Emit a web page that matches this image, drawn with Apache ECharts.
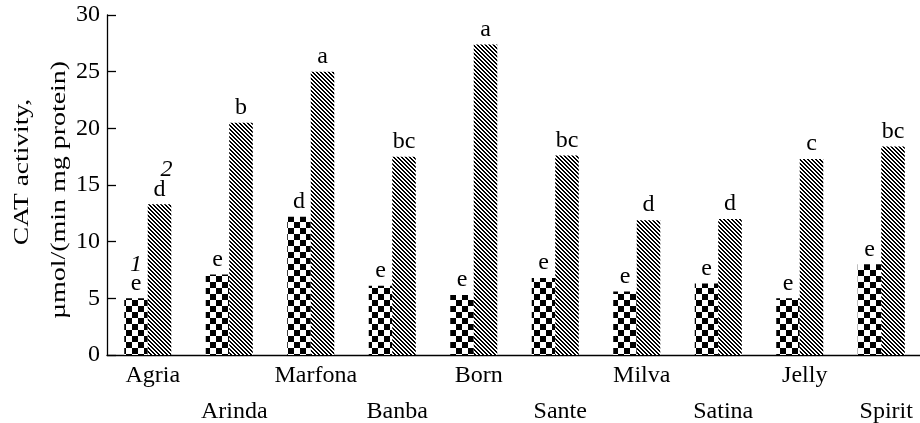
<!DOCTYPE html>
<html>
<head>
<meta charset="utf-8">
<script src="https://cdn.jsdelivr.net/npm/echarts@6/dist/echarts.min.js"></script>
<style>html,body{margin:0;padding:0;background:#fff}#c{width:920px;height:423px}</style>
</head>
<body>
<div id="c"></div>
<script>
var categories = ['Agria','Arinda','Marfona','Banba','Born','Sante','Milva','Satina','Jelly','Spirit'];
var series1Values = [5.0, 7.1, 12.2, 6.1, 5.3, 6.8, 5.6, 6.3, 5.0, 8.0];
var series2Values = [13.3, 20.5, 25.0, 17.5, 27.4, 17.6, 11.9, 12.0, 17.3, 18.4];
var series1Letters = ['e','e','d','e','e','e','e','e','e','e'];
var series2Letters = ['d','b','a','bc','a','bc','d','d','c','bc'];
var seriesNumbers = ['1','2'];
var yTicks = [0,5,10,15,20,25,30];

var FONT = '"Liberation Serif","Times New Roman",serif';

function checker(){
  var c = document.createElement('canvas'); c.width = 12; c.height = 12;
  var g = c.getContext('2d');
  g.fillStyle = '#fff'; g.fillRect(0,0,12,12);
  g.fillStyle = '#000'; g.fillRect(0,0,6,6); g.fillRect(6,6,6,6);
  return c;
}
function hatch(){
  var c = document.createElement('canvas'); c.width = 4; c.height = 4;
  var g = c.getContext('2d');
  g.fillStyle = '#fff'; g.fillRect(0,0,4,4);
  g.fillStyle = '#000';
  for (var y=0;y<4;y++) for (var x=0;x<4;x++){ var d=((x-y)%4+4)%4; if(d<2) g.fillRect(x,y,1,1); }
  return c;
}

var chart = echarts.init(document.getElementById('c'), null, {renderer:'canvas'});

var richBase = {
  n: {fontFamily: FONT, fontSize: 24, color:'#000', lineHeight: 20},
  i1: {fontFamily: FONT, fontSize: 24, fontStyle:'italic', color:'#000', lineHeight: 17},
  i2: {fontFamily: FONT, fontSize: 24, fontStyle:'italic', color:'#000', lineHeight: 20, padding:[0,0,0,14]}
};

function mkLabel(letters, numIdx){
  return {
    show: true, position: 'top', distance: 5,
    rich: richBase,
    formatter: function(p){
      var s = '{n|' + letters[p.dataIndex] + '}';
      if (p.dataIndex === 0) s = '{i' + (numIdx+1) + '|' + seriesNumbers[numIdx] + '}\n' + s;
      return s;
    }
  };
}

chart.setOption({
  animation: false,
  backgroundColor: '#fff',
  grid: {left: 107, top: 15, height: 340, width: 815, containLabel: false, outerBoundsMode: 'none'},
  xAxis: {
    type: 'category',
    data: categories,
    axisLine: {lineStyle: {color:'#000', width: 1.3}},
    axisTick: {inside: true, length: 5, lineStyle:{color:'#000', width:1.3}},
    axisLabel: {
      interval: 0, margin: 3, fontFamily: FONT, fontSize: 24, color: '#000', lineHeight: 36,
      padding: [0,0,0,10],
      formatter: function(v, i){ return (i % 2) ? '\n' + v : v; }
    },
    splitLine: {show:false}
  },
  yAxis: {
    type: 'value', min: 0, max: 30, interval: 5,
    axisLine: {show: true, lineStyle: {color:'#000', width: 1.3}},
    axisTick: {show: true, inside: true, length: 9, lineStyle:{color:'#000', width:1.3}},
    axisLabel: {margin: 7, fontFamily: FONT, fontSize: 24, color:'#000',
      formatter: function(v){ return yTicks.indexOf(v) >= 0 ? String(v) : ''; }},
    splitLine: {show:false}
  },
  graphic: [
    {type:'text', x: 22, y: 172, rotation: Math.PI/2, scaleX: 1.25,
      style:{text:'CAT activity,', font:'22px "Liberation Serif", serif', fill:'#000', textAlign:'center', textVerticalAlign:'middle'}},
    {type:'text', x: 59, y: 190, rotation: Math.PI/2, scaleX: 1.27,
      style:{text:'\u00b5mol/(min mg protein)', font:'22px "Liberation Serif", serif', fill:'#000', textAlign:'center', textVerticalAlign:'middle'}}
  ],
  series: [
    {type:'bar', data: series1Values, barWidth: 23.5, barGap: '0%',
      itemStyle:{color:{image: checker(), repeat:'repeat'}},
      label: mkLabel(series1Letters, 0)},
    {type:'bar', data: series2Values, barWidth: 23.5, barGap: '0%',
      itemStyle:{color:{image: hatch(), repeat:'repeat'}},
      label: mkLabel(series2Letters, 1)}
  ]
});
</script>
</body>
</html>
